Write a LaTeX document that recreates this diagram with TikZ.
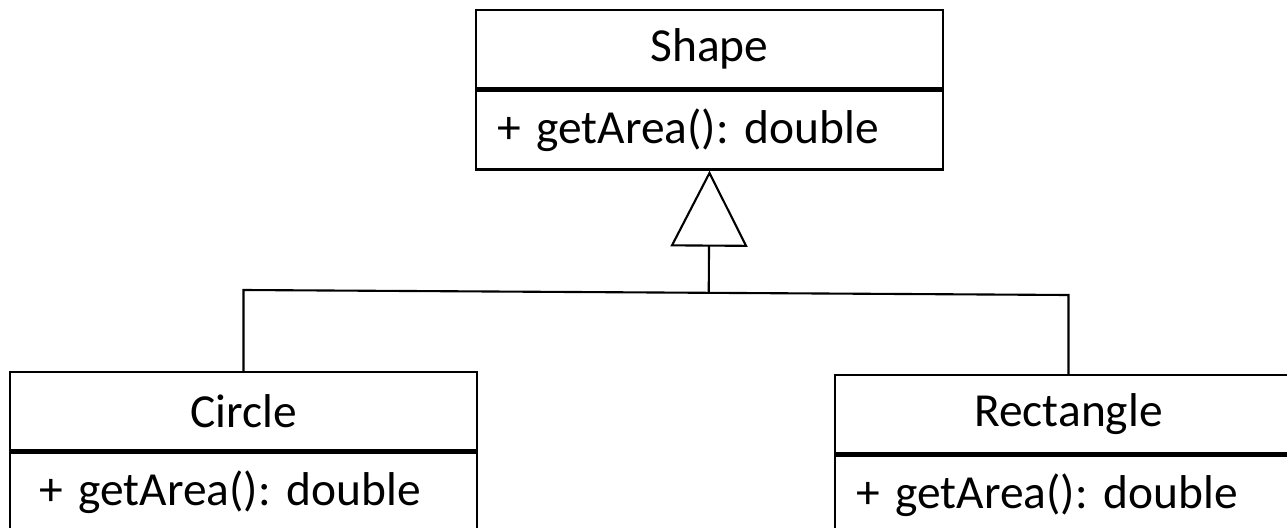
\documentclass[tikz,border=0pt]{standalone}
\usepackage{fontspec}
\setmainfont{Carlito}
\usepackage{tikz}
\usetikzlibrary{positioning, arrows.meta, calc}
\tikzstyle{head} = [rectangle, minimum width=9.34cm, minimum height=1.56cm, inner sep=0pt, text centered, draw=black, line width=1.4pt]
\tikzstyle{body} = [rectangle, minimum width=9.34cm, minimum height=1.58cm, text width=8.5cm, inner xsep=0.42cm, inner ysep=0pt, align=left, draw=black, line width=1.4pt]
\tikzstyle{divider} = [line width=2.3pt]
\tikzstyle{line} = [draw, line width=1.2pt]
\tikzstyle{inherit} = [line width=1.2pt, -{Triangle[open, length=1.52cm, width=1.54cm]}]

\begin{document}
\begin{tikzpicture}[x=0.02cm, y=-0.02cm, font=\fontsize{27}{32}\selectfont\frenchspacing]
   \clip (0,0) rectangle (1287,527);
   \node (shapehead) [head] at (709.5,49) {Shape};
   \node (shapebody) [body, below=0pt of shapehead] {+ getArea(): double};
   \node (circlehead) [head] at (243.5,411) {Circle};
   \node (circlebody) [body, below=0pt of circlehead] {\hspace*{0.16cm}+ getArea(): double};
   \node (recthead) [head] at (1068.5,414) {Rectangle};
   \node (rectbody) [body, below=0pt of recthead] {+ getArea(): double};
   \draw [divider] (shapehead.south west) -- (shapehead.south east);
   \draw [divider] (circlehead.south west) -- (circlehead.south east);
   \draw [divider] (recthead.south west) -- (recthead.south east);
   \coordinate (jl) at (circlehead.north |- 0,290);
   \coordinate (jr) at (recthead.north |- 0,295);
   \path [line] (circlehead.north) -- (jl) -- (jr) -- (recthead.north);
   \coordinate (jm) at ($(jl)!(shapebody.south)!(jr)$);
   \draw [inherit] (jm) -- (shapebody.south);
\end{tikzpicture}
\end{document}
